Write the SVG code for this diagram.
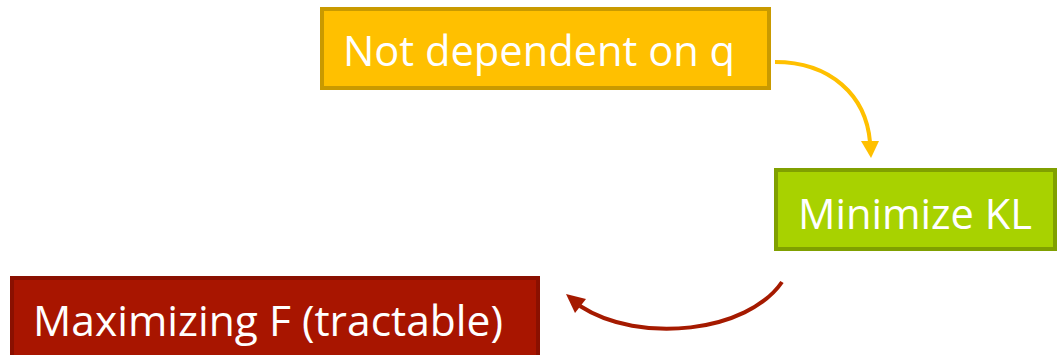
<svg xmlns="http://www.w3.org/2000/svg" width="1057" height="355" viewBox="0 0 1057 355">
<style>
.lbl{font-family:"Open Sans","Liberation Sans",sans-serif;font-size:42px;fill:#ffffff}
.box{stroke-width:4}
</style>
<rect width="1057" height="355" fill="#ffffff"/>
<g id="node-q">
<rect class="box" x="322" y="9" width="447" height="79" fill="#FFC000" stroke="#C99A00"/>
<text class="lbl" x="343" y="66" textLength="392" lengthAdjust="spacingAndGlyphs">Not dependent on q</text>
</g>
<g id="node-kl">
<rect class="box" x="776" y="170" width="279" height="79" fill="#A8D200" stroke="#80A000"/>
<text class="lbl" x="798" y="229" textLength="234" lengthAdjust="spacingAndGlyphs">Minimize KL</text>
</g>
<g id="node-f">
<rect class="box" x="12" y="278" width="526" height="82" fill="#A81500" stroke="#8A1000"/>
<text class="lbl" x="33" y="336" textLength="470" lengthAdjust="spacingAndGlyphs">Maximizing F (tractable)</text>
</g>
<g id="connectors" fill="none">
<path d="M775,62 C830,62 866,95 870,142" stroke="#FFC000" stroke-width="4"/>
<path d="M861,141 L879,141 L871,158 z" fill="#FFC000"/>
<path d="M782,282 C748,332 640,345 580,306" stroke="#A51A00" stroke-width="4"/>
<path d="M566,294 L586,299 L575,313 z" fill="#A51A00"/>
</g>
</svg>
